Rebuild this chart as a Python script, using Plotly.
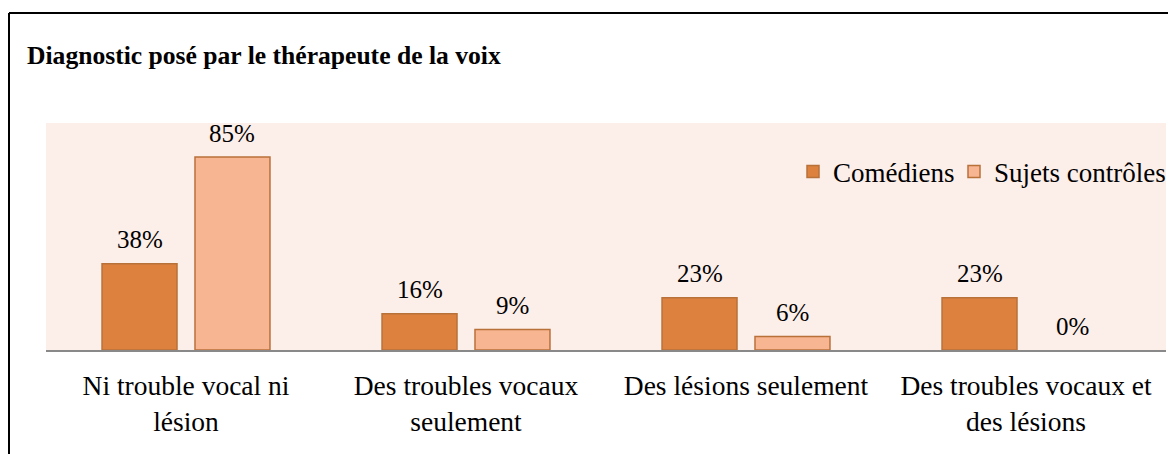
import plotly.graph_objects as go

categories = ["Ni trouble vocal ni<br>lésion", "Des troubles vocaux<br>seulement",
              "Des lésions seulement", "Des troubles vocaux et<br>des lésions"]
series_names = ["Comédiens", "Sujets contrôles"]
comediens = [38, 16, 23, 23]
controles = [85, 9, 6, 0]

VIEW_W, H = 1176, 454
W = 1210  # figure a bit wider than the window; the overflow is outside the view
PAGE = 8  # default body margin of the html page
ML, MR, MT, MB = 46 - PAGE, W - (1166 - PAGE), 123 - PAGE, H - (350 - PAGE)
PW = W - ML - MR
PH = H - MT - MB

FONT = "Liberation Serif, Times New Roman, serif"
fill_colors = ["#DC823E", "#F8B591"]
edge_color = "#B9713A"

BARGAP = 0.336
GROUPGAP = 0.1935

legend_ids = ["legend", "legend2"]
fig = go.Figure()
for name, vals, col, lg in zip(series_names, [comediens, controles], fill_colors, legend_ids):
    fig.add_trace(go.Bar(
        x=categories, y=vals, name=name, legend=lg,
        marker=dict(color=col,
                    line=dict(color=edge_color, width=[1.5 if v > 0 else 0 for v in vals])),
    ))

# data labels
cat_w = PW / len(categories)
slot = cat_w * (1 - BARGAP) / 2
for i, vals in enumerate([comediens, controles]):
    off = (i - 0.5) * slot
    for c, v in zip(categories, vals):
        fig.add_annotation(x=c, y=v, text=f"{v}%", showarrow=False,
                           xshift=off, yshift=24, yanchor="middle",
                           font=dict(family=FONT, size=25, color="#000000"))

# outer frame (left and top edges visible)
fx = (9 - PAGE - ML) / PW
fy = (H - MB - (13 - PAGE)) / PH
fig.add_shape(type="line", xref="paper", yref="paper",
              x0=fx, x1=fx, y0=-1, y1=fy,
              line=dict(color="#000000", width=2))
fig.add_shape(type="line", xref="paper", yref="paper",
              x0=fx, x1=1.2, y0=fy, y1=fy,
              line=dict(color="#000000", width=2))

legend_style = dict(orientation="h", xanchor="left",
                    y=(H - MB - (172 - PAGE)) / PH, yanchor="middle",
                    font=dict(family=FONT, size=27, color="#000000"),
                    bgcolor="rgba(0,0,0,0)")

fig.update_layout(
    width=W, height=H,
    margin=dict(l=ML, r=MR, t=MT, b=MB),
    paper_bgcolor="#FFFFFF",
    plot_bgcolor="#FCEEE9",
    barmode="group", bargap=BARGAP, bargroupgap=GROUPGAP,
    title=dict(text="<b>Diagnostic posé par le thérapeute de la voix</b>",
               x=(27 - PAGE) / W, xanchor="left", y=1 - (55 - PAGE) / H, yanchor="middle",
               font=dict(family=FONT, size=25.6, color="#000000")),
    font=dict(family=FONT, color="#000000"),
    legend=dict(x=(793 - PAGE - ML) / PW, **legend_style),
    legend2=dict(x=(954 - PAGE - ML) / PW, **legend_style),
    xaxis=dict(showline=True, linecolor="#898989", linewidth=2,
               ticks="outside", ticklen=10, tickcolor="rgba(0,0,0,0)",
               tickfont=dict(family=FONT, size=27.5, color="#000000"),
               showgrid=False, fixedrange=True),
    yaxis=dict(range=[0, 100], visible=False, showgrid=False, fixedrange=True),
    showlegend=True,
)

fig.write_html("out.html")
